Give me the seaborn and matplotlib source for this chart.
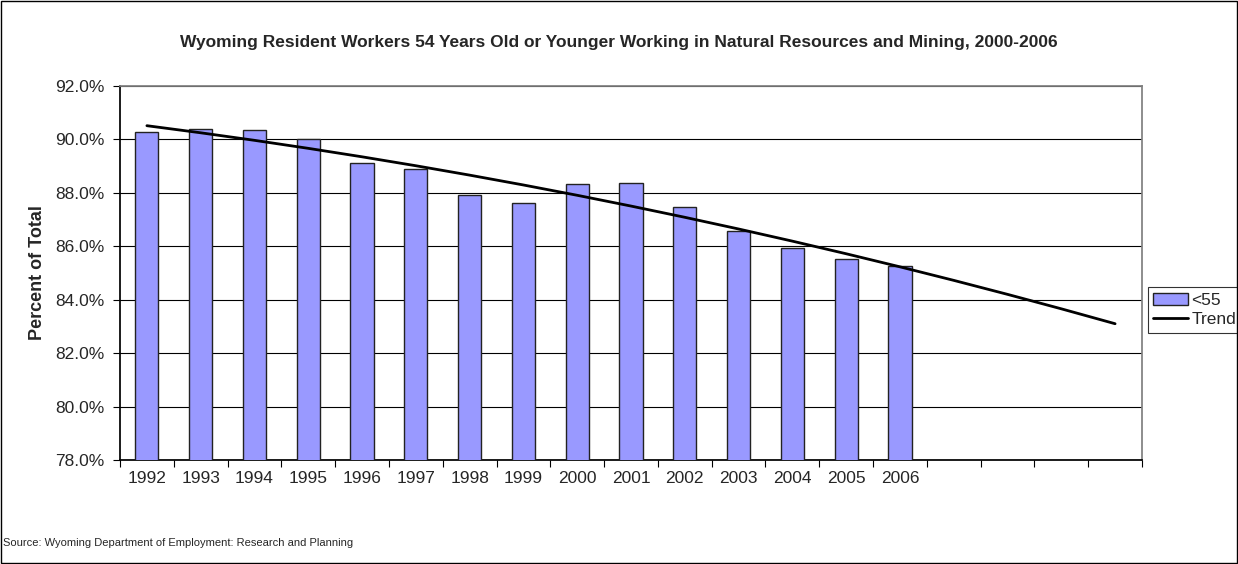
import numpy as np
import pandas as pd
import matplotlib
matplotlib.use('Agg')
import matplotlib.pyplot as plt
import seaborn as sns
from matplotlib.patches import Rectangle
from matplotlib.ticker import FuncFormatter

sns.set_theme(style='white')
plt.rcParams['font.family'] = ['Liberation Sans', 'DejaVu Sans']

# data
years = ['1992', '1993', '1994', '1995', '1996', '1997', '1998', '1999',
         '2000', '2001', '2002', '2003', '2004', '2005', '2006']
under55 = [90.29, 90.38, 90.34, 90.03, 89.11, 88.88, 87.91, 87.61,
           88.32, 88.37, 87.46, 86.58, 85.94, 85.52, 85.27]
blank_slots = ['2007', '2008', '2009', '2010']  # axis runs on, no bars
all_slots = years + blank_slots

df = pd.DataFrame({'Year': years, 'Pct': under55})

# polynomial trend (Excel-style), projected forward over the empty slots
pos = np.arange(len(years))
coef = np.polyfit(pos, under55, 2)
trend_x = np.arange(len(all_slots))
trend_y = np.polyval(coef, trend_x)

fig = plt.figure(figsize=(12.38, 5.64), dpi=100)
ax = fig.add_axes([120 / 1238, 1 - 460 / 564, 1022 / 1238, 374 / 564])

sns.barplot(data=df, x='Year', y='Pct', order=all_slots, color='#9999FF',
            saturation=1, width=0.43, edgecolor='#222222', linewidth=1,
            ax=ax, label='<55', zorder=3)
sns.lineplot(x=trend_x, y=trend_y, color='black', linewidth=2, ax=ax,
             label='Trend', zorder=4)

ax.set_xlim(-0.5, len(all_slots) - 0.5)
ax.set_ylim(78, 92)
ax.set_yticks(np.arange(78, 92.1, 2))
ax.yaxis.set_major_formatter(FuncFormatter(lambda v, p: f'{v:.1f}%'))
ax.yaxis.grid(True, color='black', linewidth=0.8, zorder=0)
ax.set_axisbelow(True)

# tick marks between categories, labels at centers
ax.set_xticks(np.arange(-0.5, len(all_slots), 1.0))
ax.set_xticklabels([])
ax.set_xticks(np.arange(len(all_slots)), minor=True)
ax.set_xticklabels(years + [''] * len(blank_slots), minor=True)
ax.tick_params(axis='x', which='major', length=5, width=0.8, color='black', direction='out', bottom=True)
ax.tick_params(axis='x', which='minor', length=0, labelsize=12.5, pad=8)
ax.tick_params(axis='y', which='major', length=5, width=0.8, color='black', direction='out', left=True,
               labelsize=12.5, pad=6)

for side in ['top', 'right']:
    ax.spines[side].set_visible(True)
    ax.spines[side].set_color('#808080')
ax.spines['left'].set_color('black')
ax.spines['bottom'].set_color('black')

ax.set_xlabel('')
ax.set_ylabel('Percent of Total', fontsize=13, fontweight='bold', labelpad=7)

fig.text(0.5, 1 - 43 / 564, 'Wyoming Resident Workers 54 Years Old or Younger Working in Natural Resources and Mining, 2000-2006',
         ha='center', va='center', fontsize=12.5, fontweight='bold')
fig.text(3 / 1238, 1 - 543 / 564, 'Source: Wyoming Department of Employment: Research and Planning',
         ha='left', va='center', fontsize=8)

handles, labels = ax.get_legend_handles_labels()
order = [labels.index('<55'), labels.index('Trend')]
leg = ax.legend([handles[i] for i in order], [labels[i] for i in order],
                loc='center left', bbox_to_anchor=(1148 / 1238, 1 - 310 / 564),
                bbox_transform=fig.transFigure, frameon=True, fancybox=False,
                fontsize=12.5, borderpad=0.3, handlelength=2.0, handletextpad=0.2,
                labelspacing=0.25, borderaxespad=0)
leg.get_frame().set_edgecolor('black')
leg.get_frame().set_linewidth(0.8)

fig.patches.append(Rectangle((0.001, 0.001), 0.998, 0.997, transform=fig.transFigure,
                             fill=False, edgecolor='black', linewidth=1))

fig.savefig('out.png', dpi=100)
